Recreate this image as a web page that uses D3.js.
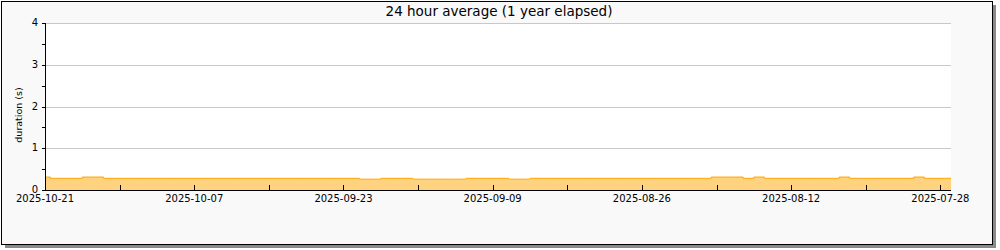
<!DOCTYPE html>
<html>
  <meta charset="utf-8" />
  <head>
    <script src="https://cdnjs.cloudflare.com/ajax/libs/d3/7.8.5/d3.min.js"></script>
    <style>
      body { margin: 0; background: #fff; }
      text { font-family: "DejaVu Sans", sans-serif; }
    </style>
  </head>
  <body>
    <script>
    // days before 2025-10-21, one value per day (seconds)
    const daysAgo = d3.range(0, 86);
    const duration = [
        0.31, 0.28, 0.28, 0.28, 0.31, 0.31, 0.28, 0.28, 0.28, 0.28,
        0.28, 0.28, 0.28, 0.28, 0.28, 0.28, 0.28, 0.28, 0.28, 0.28,
        0.28, 0.28, 0.28, 0.28, 0.28, 0.28, 0.28, 0.28, 0.28, 0.28,
        0.26, 0.26, 0.28, 0.28, 0.28, 0.26, 0.26, 0.26, 0.26, 0.26,
        0.28, 0.28, 0.28, 0.28, 0.26, 0.26, 0.28, 0.28, 0.28, 0.28,
        0.28, 0.28, 0.28, 0.28, 0.28, 0.28, 0.28, 0.28, 0.28, 0.28,
        0.28, 0.28, 0.28, 0.31, 0.31, 0.31, 0.28, 0.31, 0.28, 0.28,
        0.28, 0.28, 0.28, 0.28, 0.28, 0.31, 0.28, 0.28, 0.28, 0.28,
        0.28, 0.28, 0.31, 0.28, 0.28, 0.28
    ];
    const xTickDays = [0, 7, 14, 21, 28, 35, 42, 49, 56, 63, 70, 77, 84];
    const xTickLabels = ["2025-10-21", "", "2025-10-07", "", "2025-09-23", "",
        "2025-09-09", "", "2025-08-26", "", "2025-08-12", "", "2025-07-28"];
    const yTicks = [0, 1, 2, 3, 4];
    const yMinorTicks = [0.5, 1.5, 2.5, 3.5];

    const width = 1000, height = 250;
    const plot = { left: 45, right: 951, top: 23, bottom: 190 };

    const svg = d3.select("body").append("svg")
        .attr("width", width)
        .attr("height", height);

    // frame with drop shadow
    svg.append("rect")
        .attr("x", 5).attr("y", 5)
        .attr("width", 991).attr("height", 243)
        .attr("fill", "#8a8a8a");
    svg.append("rect")
        .attr("x", 1.5).attr("y", 1.5)
        .attr("width", 991).attr("height", 243)
        .attr("fill", "#f9f9f9")
        .attr("stroke", "#000");

    const x = d3.scaleLinear().domain([0, 85]).range([plot.left, plot.right]);
    const y = d3.scaleLinear().domain([0, 4]).range([plot.bottom, plot.top]);

    svg.append("rect")
        .attr("x", plot.left).attr("y", plot.top)
        .attr("width", plot.right - plot.left)
        .attr("height", plot.bottom - plot.top)
        .attr("fill", "#fff");

    // grid
    svg.append("g")
        .selectAll("line")
        .data(yTicks.slice(1))
        .join("line")
        .attr("x1", plot.left).attr("x2", plot.right)
        .attr("y1", d => Math.round(y(d)) + 0.5)
        .attr("y2", d => Math.round(y(d)) + 0.5)
        .attr("stroke", "#c8c8c8");

    const series = daysAgo.map((d, i) => ({ d: d, v: duration[i] }));

    const area = d3.area()
        .curve(d3.curveStep)
        .x(p => x(p.d))
        .y0(y(0))
        .y1(p => y(p.v));
    const line = d3.line()
        .curve(d3.curveStep)
        .x(p => x(p.d))
        .y(p => y(p.v));

    svg.append("path")
        .datum(series)
        .attr("fill", "#ffd27f")
        .attr("d", area);
    svg.append("path")
        .datum(series)
        .attr("fill", "none")
        .attr("stroke", "#ffa500")
        .attr("stroke-width", 1)
        .attr("d", line);

    // y axis
    const yAxis = svg.append("g");
    yAxis.append("line")
        .attr("x1", plot.left + 0.5).attr("x2", plot.left + 0.5)
        .attr("y1", plot.top).attr("y2", plot.bottom)
        .attr("stroke", "#000");
    yAxis.selectAll("line.tick")
        .data(yTicks.concat(yMinorTicks))
        .join("line")
        .attr("class", "tick")
        .attr("x1", plot.left - 3).attr("x2", plot.left)
        .attr("y1", d => Math.round(y(d)) + 0.5)
        .attr("y2", d => Math.round(y(d)) + 0.5)
        .attr("stroke", "#000");
    yAxis.selectAll("text")
        .data(yTicks)
        .join("text")
        .attr("x", 38)
        .attr("y", d => y(d) - 0.5)
        .attr("dy", "0.36em")
        .attr("text-anchor", "end")
        .attr("font-size", "10px")
        .attr("fill", "#000")
        .text(d => d);

    // x axis
    const xAxis = svg.append("g");
    xAxis.append("line")
        .attr("x1", plot.left).attr("x2", plot.right)
        .attr("y1", plot.bottom + 0.5).attr("y2", plot.bottom + 0.5)
        .attr("stroke", "#000");
    xAxis.selectAll("line.tick")
        .data(xTickDays)
        .join("line")
        .attr("class", "tick")
        .attr("x1", d => Math.round(x(d)) + 0.5)
        .attr("x2", d => Math.round(x(d)) + 0.5)
        .attr("y1", plot.bottom - 5).attr("y2", plot.bottom)
        .attr("stroke", "#000");
    xAxis.selectAll("text")
        .data(xTickDays)
        .join("text")
        .attr("x", d => x(d))
        .attr("y", 202)
        .attr("text-anchor", "middle")
        .attr("font-size", "10px")
        .attr("fill", "#000")
        .text((d, i) => xTickLabels[i]);

    svg.append("text")
        .attr("transform", "translate(22,115) rotate(-90)")
        .attr("text-anchor", "middle")
        .attr("font-size", "9.5px")
        .text("duration (s)");

    svg.append("text")
        .attr("x", 499)
        .attr("y", 16)
        .attr("text-anchor", "middle")
        .attr("font-size", "13.5px")
        .text("24 hour average (1 year elapsed)");
</script>
</body>
</html>
